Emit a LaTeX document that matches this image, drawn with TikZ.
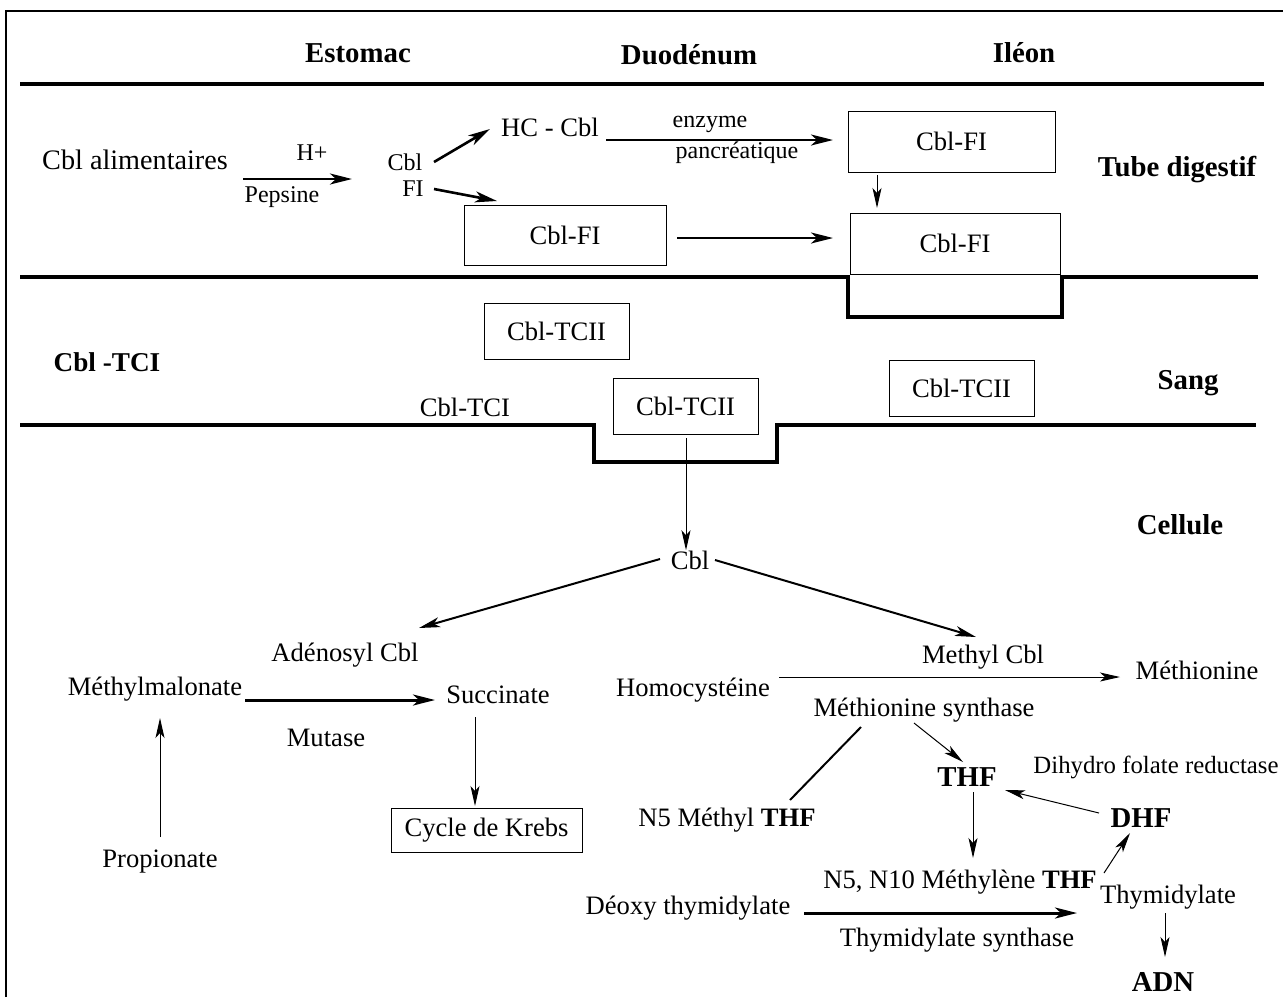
\documentclass[tikz,border=0pt]{standalone}
\usepackage{fontspec}
\setmainfont{Liberation Serif}
\usetikzlibrary{arrows.meta}
\begin{document}
\begin{tikzpicture}[x=0.5pt,y=-0.5pt,
  txt/.style={inner sep=0pt, font=\fontsize{13.3}{15}\selectfont},
  sml/.style={inner sep=0pt, font=\fontsize{12}{14}\selectfont},
  bld/.style={inner sep=0pt, font=\fontsize{14.4}{17}\selectfont\bfseries},
  bldm/.style={inner sep=0pt, font=\fontsize{13.6}{16}\selectfont\bfseries},
  boxn/.style={draw, line width=0.5pt, inner sep=0pt, font=\fontsize{13.3}{15}\selectfont},
  thk/.style={line width=1.3pt, -{Stealth[length=11pt,width=5.5pt,inset=3pt]}},
  med/.style={line width=1pt, -{Stealth[length=10.5pt,width=5pt,inset=2.8pt]}},
  thn/.style={line width=0.5pt, -{Stealth[length=10pt,width=4.5pt,inset=2.5pt]}},
  wall/.style={line width=1.6pt},
  frame/.style={line width=1pt}]
\useasboundingbox (0,0) rectangle (1283,997);
% frame
\coordinate (fr1) at (6,997);
\coordinate (fr2) at (6,11);
\coordinate (fr3) at (1283,11);
\draw[frame] (fr1) -- (fr2) -- (fr3);
% headers
\node[bld] (estomac) at (358,53) {Estomac};
\node[bld] (duod) at (689,55) {Duodénum};
\node[bld] (ileon) at (1024,53) {Iléon};
\coordinate (l1a) at (20,84);
\coordinate (l1b) at (1264,84);
\draw[line width=2pt] (l1a) -- (l1b);
% tube digestif
\node[inner sep=0pt, font=\fontsize{14.1}{16}\selectfont] (cblal) at (135,160) {Cbl alimentaires};
\node[sml] (hplus) at (312,153) {H+};
\node[sml] (pepsine) at (282,197) {Pepsine};
\node[sml] (cbla) at (405,162) {Cbl};
\node[sml] (fi) at (413,189) {FI};
\node[txt] (hccbl) at (550,127) {HC - Cbl};
\node[sml] (enzyme) at (710,124) {enzyme};
\node[sml] (pancr) at (737,153) {pancréatique};
\node[boxn, minimum width=101pt, minimum height=30pt] (cblfia) at (565,235) {Cbl-FI};
\node[boxn, minimum width=103.5pt, minimum height=30.5pt] (cblfib) at (951.5,141.5) {Cbl-FI};
\node[boxn, minimum width=105pt, minimum height=30.5pt] (cblfic) at (955,243.5) {Cbl-FI};
\node[bld] (tube) at (1177,170) {Tube digestif};
\coordinate (a1s) at (243,179); \coordinate (a1e) at (352,179);
\draw[thk] (a1s) -- (a1e);
\coordinate (a2s) at (434,162); \coordinate (a2e) at (490,129);
\draw[thk] (a2s) -- (a2e);
\coordinate (a3s) at (434,189); \coordinate (a3e) at (497,201);
\draw[thk] (a3s) -- (a3e);
\coordinate (a4s) at (606,140); \coordinate (a4e) at (833,140);
\draw[thk] (a4s) -- (a4e);
\coordinate (a5s) at (877,175); \coordinate (a5e) at (877,208);
\draw[thn] (a5s) -- (a5e);
\coordinate (a6s) at (677,238); \coordinate (a6e) at (833,238);
\draw[thk] (a6s) -- (a6e);
% wall 2
\coordinate (w1) at (20,277); \coordinate (w2) at (848,277);
\coordinate (w3) at (848,317); \coordinate (w4) at (1062,317);
\coordinate (w5) at (1062,277); \coordinate (w6) at (1258,277);
\draw[wall] (w1) -- (w2) -- (w3) -- (w4) -- (w5) -- (w6);
% sang
\node[boxn, minimum width=72.5pt, minimum height=28pt] (tciia) at (556.5,331) {Cbl-TCII};
\node[boxn, minimum width=72.5pt, minimum height=28pt] (tciib) at (685.5,406) {Cbl-TCII};
\node[boxn, minimum width=72.5pt, minimum height=28pt] (tciic) at (961.5,388) {Cbl-TCII};
\node[bldm] (cbltci) at (107,362) {Cbl -TCI};
\node[txt] (cbltcib) at (465,407) {Cbl-TCI};
\node[bld] (sang) at (1188,383) {Sang};
\coordinate (s1) at (20,425); \coordinate (s2) at (594,425);
\coordinate (s3) at (594,462); \coordinate (s4) at (777,462);
\coordinate (s5) at (777,425); \coordinate (s6) at (1256,425);
\draw[wall] (s1) -- (s2) -- (s3) -- (s4) -- (s5) -- (s6);
% cellule
\node[bld] (cellule) at (1180,525) {Cellule};
\node[txt] (cblc) at (690,560) {Cbl};
\coordinate (b1s) at (686,438);
\draw[thn] (b1s) -- (cblc.north -| b1s);
\coordinate (b2s) at (660,559); \coordinate (b2e) at (419,628);
\draw[med] (b2s) -- (b2e);
\coordinate (b3s) at (715,560); \coordinate (b3e) at (976,637);
\draw[med] (b3s) -- (b3e);
\node[txt] (adeno) at (345,655) {Adénosyl Cbl};
\node[txt] (methylcbl) at (983,657) {Methyl Cbl};
\node[txt] (methylmal) at (155,689) {Méthylmalonate};
\node[txt] (succ) at (498,695) {Succinate};
\node[txt] (mutase) at (326,738) {Mutase};
\node[boxn, minimum width=95.5pt, minimum height=22pt] (krebs) at (486.5,830) {Cycle de Krebs};
\node[txt] (propio) at (160,862) {Propionate};
\coordinate (c1s) at (245,700); \coordinate (c1e) at (435,700);
\draw[line width=1.5pt, -{Stealth[length=11pt,width=5.5pt,inset=3pt]}] (c1s) -- (c1e);
\coordinate (c2s) at (475,717); \coordinate (c2e) at (475,806);
\draw[thn] (c2s) -- (c2e);
\coordinate (c3s) at (160,837); \coordinate (c3e) at (160,718);
\draw[thn] (c3s) -- (c3e);
\node[txt] (homoc) at (693,690) {Homocystéine};
\node[txt] (methio) at (1197,670) {Méthionine};
\node[txt] (msynth) at (924,710) {Méthionine synthase};
\node[bld] (thf) at (967,777) {THF};
\node[inner sep=0pt, font=\fontsize{12.4}{14}\selectfont, anchor=east] (dhfred) at (1279,767) {Dihydro folate reductase};
\node[txt] (n5) at (727,820) {N5 Méthyl \textbf{THF}};
\node[bld] (dhf) at (1141,818) {DHF};
\node[txt] (n5n10) at (960,882) {N5, N10 Méthylène \textbf{THF}};
\node[txt] (thymi) at (1168,897) {Thymidylate};
\node[txt] (deoxy) at (688,908) {Déoxy thymidylate};
\node[txt] (tsynth) at (957,940) {Thymidylate synthase};
\node[bld] (adn) at (1163,982) {ADN};
\coordinate (d1s) at (779,677); \coordinate (d1e) at (1120,677);
\draw[thn] (d1s) -- (d1e);
\coordinate (d2s) at (861,727); \coordinate (d2e) at (790,800);
\draw[line width=1pt] (d2s) -- (d2e);
\coordinate (d3s) at (914,723); \coordinate (d3e) at (963,762);
\draw[thn] (d3s) -- (d3e);
\coordinate (d4s) at (973,792); \coordinate (d4e) at (973,858);
\draw[thn] (d4s) -- (d4e);
\coordinate (d5s) at (1099,813); \coordinate (d5e) at (1005,790);
\draw[thn] (d5s) -- (d5e);
\coordinate (d6s) at (1104,873); \coordinate (d6e) at (1130,833);
\draw[thn] (d6s) -- (d6e);
\coordinate (d7s) at (804,913); \coordinate (d7e) at (1077,913);
\draw[line width=1.5pt, -{Stealth[length=11pt,width=5.5pt,inset=3pt]}] (d7s) -- (d7e);
\coordinate (d8s) at (1165,913); \coordinate (d8e) at (1165,957);
\draw[thn] (d8s) -- (d8e);
\end{tikzpicture}
\end{document}
